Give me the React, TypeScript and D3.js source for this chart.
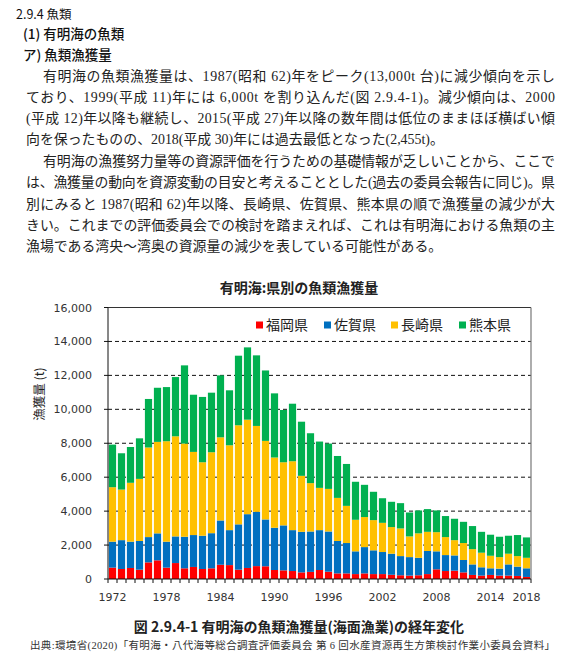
import React from "react";
import * as d3 from "d3";

const years: number[] = d3.range(1972, 2019);
const fukuoka = [670,590,650,550,980,1100,670,940,630,710,590,630,840,820,550,650,760,750,530,510,470,390,420,530,430,330,330,290,330,290,290,250,220,200,220,290,570,470,490,390,240,200,240,200,200,180,120];
const saga = [1530,1700,1550,1690,1490,1590,1530,1570,1860,1880,1960,2070,2610,2060,2670,3170,3200,2760,2490,2650,2410,2390,2380,2350,2370,1910,1790,1340,1550,1400,1300,1240,1130,1090,1030,1360,1060,940,900,730,620,490,390,410,660,550,510];
const nagasaki = [3210,2980,3470,3660,5280,5390,5920,5900,5490,4900,4330,4770,4900,5000,5840,5570,5060,4630,4140,3720,4060,3300,2850,2490,2510,2540,2190,1860,1770,1780,1720,1570,1630,1220,1440,1130,1130,1060,900,1000,900,860,740,680,630,620,620];
const kumamoto = [2510,2140,2110,2390,2860,3190,3190,3490,4610,3370,3850,3510,3650,3240,4100,4260,4160,4150,3780,3080,3390,3190,2940,2730,2670,2470,2470,2240,1900,1670,1450,1490,1490,1410,1350,1340,1280,1240,1260,1250,1360,1230,1240,1200,1060,1240,1200];
const seriesNames = ["福岡県", "佐賀県", "長崎県", "熊本県"];
const seriesColors = ["#FF0000", "#0070C0", "#FFC000", "#00B050"];
const yTicks = [0, 2000, 4000, 6000, 8000, 10000, 12000, 14000, 16000];
const xLabelYears = [1972, 1978, 1984, 1990, 1996, 2002, 2008, 2014, 2018];

const headings = [
  { t: "2.9.4 魚類", x: 16, y: 19, size: 12.5, w: 400 },
  { t: "(1) 有明海の魚類", x: 23, y: 39, size: 13.5, w: 500 },
  { t: "ア) 魚類漁獲量", x: 23, y: 60, size: 13.5, w: 500 },
];
const bodyLines = [
  { t: "有明海の魚類漁獲量は、1987(昭和 62)年をピーク(13,000t 台)に減少傾向を示し", x: 43, y: 81, end: 555 },
  { t: "ており、1999(平成 11)年には 6,000t を割り込んだ(図 2.9.4-1)。減少傾向は、2000", x: 26, y: 102, end: 555 },
  { t: "(平成 12)年以降も継続し、2015(平成 27)年以降の数年間は低位のままほぼ横ばい傾", x: 26, y: 123, end: 555 },
  { t: "向を保ったものの、2018(平成 30)年には過去最低となった(2,455t)。", x: 26, y: 144, end: 0 },
  { t: "有明海の漁獲努力量等の資源評価を行うための基礎情報が乏しいことから、ここで", x: 43, y: 166, end: 555 },
  { t: "は、漁獲量の動向を資源変動の目安と考えることとした(過去の委員会報告に同じ)。県", x: 26, y: 187, end: 555 },
  { t: "別にみると 1987(昭和 62)年以降、長崎県、佐賀県、熊本県の順で漁獲量の減少が大", x: 26, y: 209, end: 555 },
  { t: "きい。これまでの評価委員会での検討を踏まえれば、これは有明海における魚類の主", x: 26, y: 230, end: 555 },
  { t: "漁場である湾央～湾奥の資源量の減少を表している可能性がある。", x: 26, y: 251, end: 0 },
];

const W = 584, H = 658;
const left = 108, right = 531, top = 307.5, bottom = 579;

export default function App() {
  const x = d3.scaleBand<number>().domain(years).range([left, right]).paddingInner(0.2).paddingOuter(0.1);
  const y = d3.scaleLinear().domain([0, 16000]).range([bottom, top]);
  const table = years.map((yr, i) => ({ year: yr, s0: fukuoka[i], s1: saga[i], s2: nagasaki[i], s3: kumamoto[i] }));
  const stack = d3.stack<any>().keys(["s0", "s1", "s2", "s3"]);
  const layers = stack(table);
  const step = x.step();
  const sans = "'Noto Sans CJK JP', 'Noto Sans', sans-serif";
  const serif = "'Liberation Serif', 'Noto Sans CJK JP', serif";
  const tickFont = "'DejaVu Sans', Verdana, sans-serif";
  const legendX = [256, 324, 391, 459];

  return (
    <svg width={W} height={H} style={{ position: "absolute", left: 0, top: 0, background: "#fff" }}>
      <rect x={0} y={0} width={W} height={H} fill="#fff" />
      {headings.map((h, i) => (
        <text key={"h" + i} x={h.x} y={h.y} fontSize={h.size} fontWeight={h.w} fontFamily={sans} fill="#111">{h.t}</text>
      ))}
      {bodyLines.map((l, i) => (
        l.end > 0 ? (
          <text key={"b" + i} x={l.x} y={l.y} fontSize={13.9} fontFamily={serif} fill="#222"
            textLength={l.end - l.x} lengthAdjust="spacing">{l.t}</text>
        ) : (
          <text key={"b" + i} x={l.x} y={l.y} fontSize={13.9} fontFamily={serif} fill="#222">{l.t}</text>
        )
      ))}
      <text x={299} y={293} textAnchor="middle" fontSize={14} fontWeight={600} fontFamily={sans} fill="#222">有明海:県別の魚類漁獲量</text>

      {yTicks.slice(1, -1).map((v) => (
        <line key={"g" + v} x1={left} x2={right} y1={y(v)} y2={y(v)} stroke="#111" strokeWidth={1} strokeDasharray="4,3" />
      ))}

      {layers.map((layer, li) => (
        <g key={"l" + li} fill={seriesColors[li]}>
          {layer.map((d: any, i: number) => (
            <rect key={i} x={x(years[i])} width={x.bandwidth()} y={y(d[1])} height={y(d[0]) - y(d[1])} />
          ))}
        </g>
      ))}

      <line x1={left} x2={right} y1={top} y2={top} stroke="#333" strokeWidth={1} />
      <line x1={right} x2={right} y1={top} y2={bottom} stroke="#777" strokeWidth={1.2} />
      <line x1={left} x2={left} y1={top} y2={bottom} stroke="#111" strokeWidth={1} />
      <line x1={left} x2={right} y1={bottom} y2={bottom} stroke="#111" strokeWidth={1} />
      {yTicks.map((v) => (
        <g key={"yt" + v}>
          <line x1={left - 4} x2={left} y1={y(v)} y2={y(v)} stroke="#111" />
          <text x={92} y={y(v) + 4} textAnchor="end" fontSize={11} fontFamily={tickFont} fill="#333">{d3.format(",")(v)}</text>
        </g>
      ))}
      {d3.range(years.length + 1).map((i) => (
        <line key={"xt" + i} x1={left + i * step} x2={left + i * step} y1={bottom} y2={bottom + 4} stroke="#111" />
      ))}
      {xLabelYears.map((yr) => (
        <text key={"xl" + yr} x={(x(yr) as number) + x.bandwidth() / 2} y={601} textAnchor="middle" fontSize={11} fontFamily={tickFont} fill="#333">{yr}</text>
      ))}
      <text transform="translate(44,394) rotate(-90)" textAnchor="middle" fontSize={12.5} fontFamily={sans} fill="#222">漁獲量 (t)</text>

      {seriesNames.map((n, i) => (
        <g key={"lg" + i}>
          <rect x={legendX[i]} y={321.5} width={7} height={7} fill={seriesColors[i]} />
          <text x={legendX[i] + 10} y={330} fontSize={14} fontFamily={sans} fill="#222">{n}</text>
        </g>
      ))}

      <text x={299} y={632} textAnchor="middle" fontSize={14} fontWeight={600} fontFamily={sans} fill="#222">図 2.9.4-1 有明海の魚類漁獲量(海面漁業)の経年変化</text>
      <text x={30} y={649} fontSize={10.5} fontFamily={serif} fill="#333" textLength={525} lengthAdjust="spacing">出典:環境省(2020)「有明海・八代海等総合調査評価委員会 第 6 回水産資源再生方策検討作業小委員会資料」</text>
    </svg>
  );
}
